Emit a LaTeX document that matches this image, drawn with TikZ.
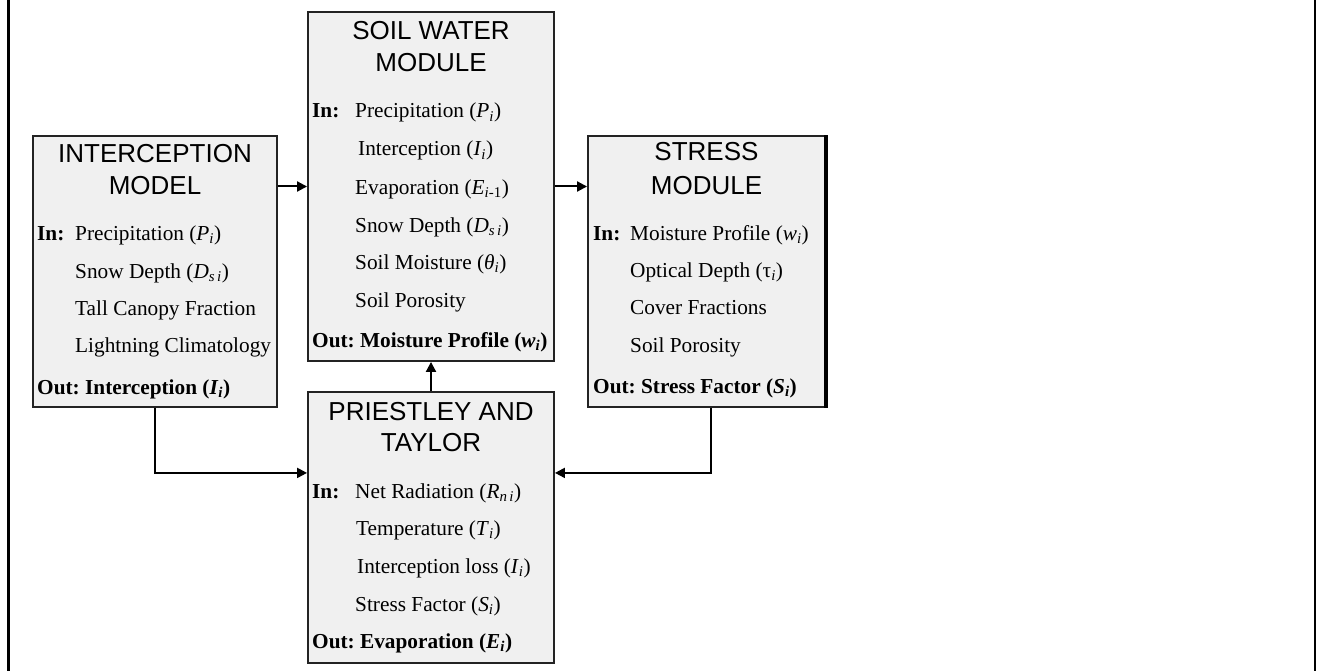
\documentclass[tikz,border=0pt]{standalone}
\usepackage{fontspec}
\setmainfont{Liberation Serif}
\newfontfamily\titlefont{Liberation Sans}
\usetikzlibrary{arrows.meta,calc}
\definecolor{boxgray}{RGB}{240,240,240}
\definecolor{edgegray}{RGB}{35,35,35}
\newcommand\vsub[2]{\textit{#1}\textsubscript{\textit{#2}}}
\newcommand\bodysize{\fontsize{21.3}{25}\selectfont\frenchspacing}
\newcommand\titlesize{\fontsize{26}{31}\selectfont}
\begin{document}
\begin{tikzpicture}[x=1pt,y=-1pt,
  modbox/.style={draw=edgegray, line width=1.9pt, fill=boxgray, inner sep=0pt},
  txt/.style={anchor=base west, inner sep=0pt, font=\bodysize},
  ttl/.style={anchor=base, inner sep=0pt, font=\titlefont\titlesize},
  conn/.style={draw=black, line width=2pt, -{Triangle[length=10pt,width=10pt]}},
  frameline/.style={line width=2.2pt}]
\useasboundingbox (0,0) rectangle (1319,671);
% outer frame sides
\draw[frameline] (8.5,0) -- (8.5,671);
\draw[frameline] (1315,0) -- (1315,671);
% boxes
\node[modbox, minimum width=244pt, minimum height=271pt] (icp) at (155,271.5) {};
\node[modbox, minimum width=246pt, minimum height=349pt] (swm) at (431,186.5) {};
\node[modbox, minimum width=237pt, minimum height=271pt] (stm) at (706.5,271.5) {};
\node[modbox, minimum width=246pt, minimum height=271pt] (ptm) at (431,527.5) {};
\draw[line width=3.5pt, draw=black] (stm.north east) -- (stm.south east);
% interception model
\node[ttl] (icpt1) at (155,163) {INTERCEPTION};
\node[ttl] (icpt2) at (155,194) {MODEL};
\node[txt] (icpin) at (37,240) {\textbf{In:}};
\node[txt] (icp1) at (75,240) {Precipitation (\vsub{P}{i})};
\node[txt] (icp2) at (75,278) {Snow Depth (\vsub{D}{s\,i})};
\node[txt] (icp3) at (75,315) {Tall Canopy Fraction};
\node[txt] (icp4) at (75,352) {Lightning Climatology};
\node[txt] (icpout) at (37,394) {\textbf{Out: Interception (\textit{I}\textsubscript{\textit{i}})}};
% soil water module
\node[ttl] (swmt1) at (431,40) {SOIL WATER};
\node[ttl] (swmt2) at (431,72) {MODULE};
\node[txt] (swmin) at (312,118) {\textbf{In:}};
\node[txt] (swm1) at (355,118) {Precipitation (\vsub{P}{i})};
\node[txt] (swm2) at (358,156) {Interception (\vsub{I}{i})};
\node[txt] (swm3) at (355,194) {Evaporation (\textit{E}\textsubscript{\textit{i}-1})};
\node[txt] (swm4) at (355,232) {Snow Depth (\vsub{D}{s\,i})};
\node[txt] (swm5) at (355,269) {Soil Moisture (\vsub{θ}{i})};
\node[txt] (swm6) at (355,307) {Soil Porosity};
\node[txt] (swmout) at (312,347) {\textbf{Out: Moisture Profile (\textit{w}\textsubscript{\textit{i}})}};
% stress module
\node[ttl] (stmt1) at (706.5,161) {STRESS};
\node[ttl] (stmt2) at (706.5,194) {MODULE};
\node[txt] (stmin) at (593,240) {\textbf{In:}};
\node[txt] (stm1) at (630,240) {Moisture Profile (\vsub{w}{i})};
\node[txt] (stm2) at (630,277) {Optical Depth (τ\textsubscript{\textit{i}})};
\node[txt] (stm3) at (630,314) {Cover Fractions};
\node[txt] (stm4) at (630,352) {Soil Porosity};
\node[txt] (stmout) at (593,393) {\textbf{Out: Stress Factor (\textit{S}\textsubscript{\textit{i}})}};
% priestley and taylor
\node[ttl] (ptmt1) at (431,420) {PRIESTLEY AND};
\node[ttl] (ptmt2) at (431,451) {TAYLOR};
\node[txt] (ptmin) at (312,498) {\textbf{In:}};
\node[txt] (ptm1) at (355,498) {Net Radiation (\vsub{R}{n\,i})};
\node[txt] (ptm2) at (356,535) {Temperature (\vsub{T}{i})};
\node[txt] (ptm3) at (357,573) {Interception loss (\vsub{I}{i})};
\node[txt] (ptm4) at (355,611) {Stress Factor (\vsub{S}{i})};
\node[txt] (ptmout) at (312,648) {\textbf{Out: Evaporation (\textit{E}\textsubscript{\textit{i}})}};
% connectors
\draw[conn] (swm.west -| icp.east) -- (swm.west);
\draw[conn] (swm.east) -- (swm.east -| stm.west);
\draw[conn] (ptm.north) -- (swm.south);
\draw[conn] (icp.south) |- ($(ptm.north west)!0.3!(ptm.south west)$);
\draw[conn] ($(stm.south west)!0.52!(stm.south east)$) |- ($(ptm.north east)!0.3!(ptm.south east)$);
\end{tikzpicture}
\end{document}
